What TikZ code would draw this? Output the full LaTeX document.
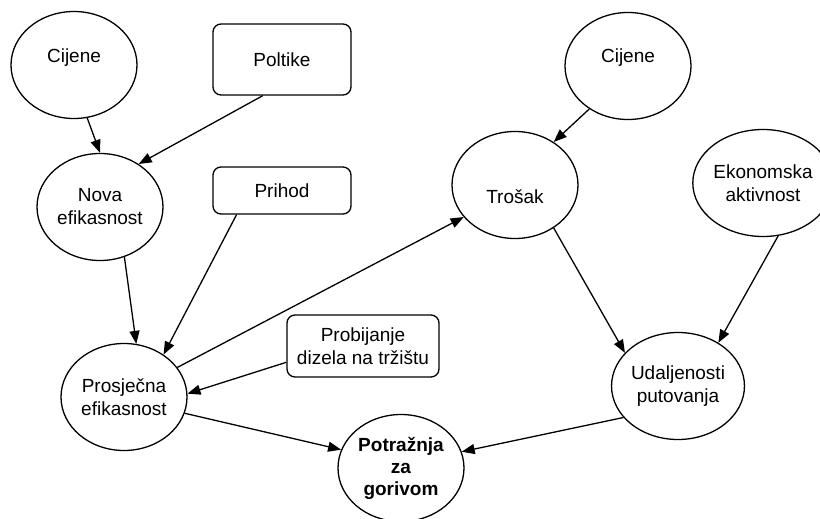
\documentclass[tikz,border=0pt]{standalone}
\usepackage{fontspec}
\setmainfont{Liberation Sans}
\usetikzlibrary{shapes.geometric,arrows.meta}
\begin{document}
\begin{tikzpicture}[x=1pt,y=-1pt,
  every node/.style={font=\fontsize{19}{23}\selectfont, align=center},
  oval/.style={draw, ellipse, line width=1.3pt, inner sep=0pt,
               minimum width=126pt, minimum height=107pt},
  factor/.style={draw, rectangle, rounded corners=8pt, line width=1.3pt, inner sep=0pt},
  link/.style={line width=1.3pt, -{Triangle[length=13pt,width=10pt]}}]
\useasboundingbox (0,0) rectangle (820,519);

% causes on the left
\node[oval, label={[yshift=7pt]center:Cijene}] (cijL) at (74,65) {};
\node[factor, minimum width=138pt, minimum height=71pt] (pol) at (282,59.5) {Poltike};
\node[oval] (nova) at (100,207) {Nova\\efikasnost};
\node[factor, minimum width=138pt, minimum height=47pt] (pri) at (282,190.5) {Prihod};
\node[oval] (pros) at (124,397) {Prosječna\\efikasnost};
\node[factor, minimum width=152pt, minimum height=62pt] (prob) at (363,346) {Probijanje\\dizela na tržištu};

% causes on the right
\node[oval, label={[yshift=8pt]center:Cijene}] (cijR) at (628,66) {};
\node[oval, label={[yshift=-12pt]center:Trošak}] (tro) at (515,185) {};
\node[oval, minimum width=122pt] (eko) at (763,183) {Ekonomska\\aktivnost};
\node[oval, minimum width=128pt] (uda) at (678,386) {Udaljenosti\\putovanja};

% outcome
\node[oval, font=\fontsize{19}{22}\selectfont\bfseries] (pot) at (401,468) {Potražnja\\za\\gorivom};

% influences
\draw[link] (cijL.-76.5) -- (nova.90);
\draw[link] (pol.-118) -- (nova.48);
\draw[link] (nova.-64.7) -- (pros.77.5);
\draw[link] (pri.-152.4) -- (pros.47);
\draw[link] (pros.29.5) -- (tro.-148);
\draw[link] (prob.-168.8) -- (pros.3.5);
\draw[link] (pros.-15.7) -- (pot.163);
\draw[link] (cijR.-132.3) -- (tro.48.5);
\draw[link] (tro.-48.5) -- (uda.148.2);
\draw[link] (eko.-74.5) -- (uda.47.7);
\draw[link] (uda.-150) -- (pot.15);
\end{tikzpicture}
\end{document}
